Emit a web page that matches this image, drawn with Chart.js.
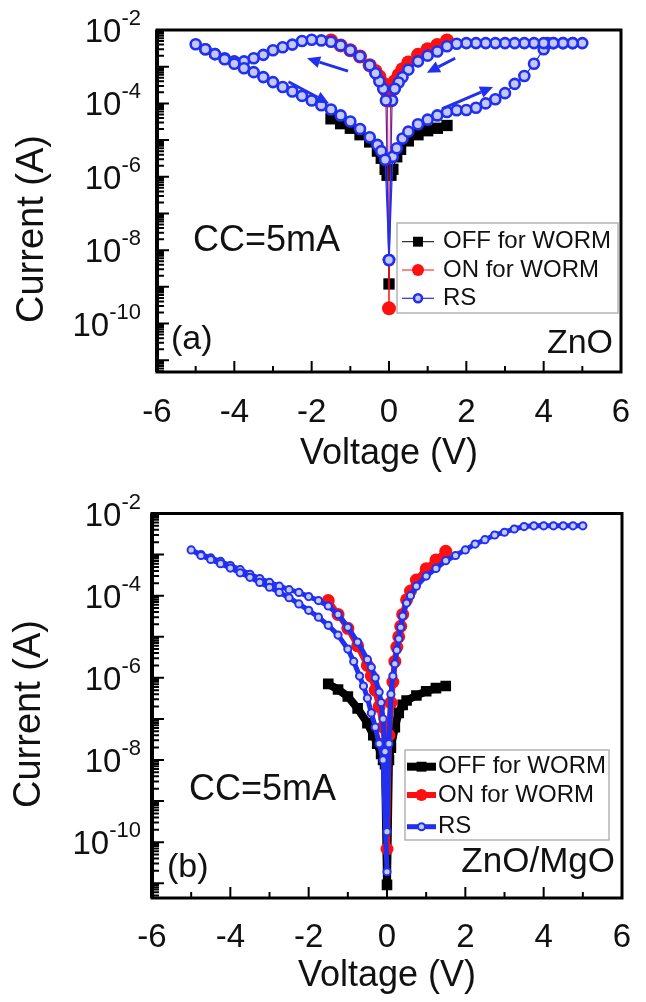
<!DOCTYPE html>
<html>
<head>
<meta charset="utf-8">
<script src="https://cdn.jsdelivr.net/npm/chart.js@4.4.1/dist/chart.umd.min.js"></script>
<style>
  html, body { margin: 0; padding: 0; background: #fff; }
  #wrap { position: relative; width: 646px; height: 1002px; }
  .panel { position: absolute; left: 0; width: 646px; }
  #pa { top: 0; height: 490px; }
  #pb { top: 490px; height: 512px; }
</style>
</head>
<body>
<div id="wrap">
  <div class="panel" id="pa"><canvas id="chartA"></canvas></div>
  <div class="panel" id="pb"><canvas id="chartB"></canvas></div>
</div>
<script>
// series names and labelled decades
const names = ['OFF for WORM', 'ON for WORM', 'RS'];
const yLabelExps = [-2, -4, -6, -8, -10];

// (a) ZnO : voltage (V) / current (A)
const aOffV = [-1.5, -1.25, -1.0, -0.75, -0.5, -0.3, -0.2, -0.1, -0.05, 0, 0.05, 0.1, 0.2, 0.3, 0.5, 0.75, 1.0, 1.25, 1.5];
const aOffI = [3.8e-5, 2.8e-5, 2.1e-5, 1.4e-5, 8.9e-6, 5.0e-6, 3.2e-6, 1.6e-6, 1.1e-6, 1.2e-9, 1.1e-6, 1.6e-6, 3.5e-6, 5.6e-6, 9.5e-6, 1.4e-5, 1.8e-5, 2.1e-5, 2.5e-5];

const aOnV = [-1.5, -1.25, -1.0, -0.75, -0.5, -0.35, -0.25, -0.15, -0.08, -0.04, 0, 0.04, 0.08, 0.15, 0.25, 0.35, 0.5, 0.75, 1.0, 1.25, 1.5];
const aOnI = [5.2e-3, 3.8e-3, 2.8e-3, 1.9e-3, 1.1e-3, 7.6e-4, 5.4e-4, 3.5e-4, 2.2e-4, 1.2e-4, 2.6e-10, 1.2e-4, 2.3e-4, 4.0e-4, 6.0e-4, 8.5e-4, 1.3e-3, 2.1e-3, 3.0e-3, 3.9e-3, 5.2e-3];

// sweep 0 -> 5 -> 0 -> -5 -> 0
const aRsV = [0, 0.1, 0.2, 0.35, 0.5, 0.75, 1.0, 1.25, 1.5, 1.75, 2.0, 2.25, 2.5, 2.75, 3.0, 3.25, 3.5, 3.75, 4.0, 4.1, 4.25, 4.5, 4.75, 5.0,
  4.75, 4.5, 4.25, 4.0, 3.75, 3.5, 3.25, 3.0, 2.75, 2.5, 2.25, 2.0, 1.75, 1.5, 1.25, 1.0, 0.75, 0.5, 0.35, 0.25, 0.15, 0.08, 0,
  -0.08, -0.15, -0.25, -0.35, -0.5, -0.75, -1.0, -1.25, -1.5, -1.75, -2.0, -2.25, -2.5, -2.75, -3.0, -3.25, -3.5, -3.75, -4.0, -4.25, -4.5, -4.75, -5.0,
  -4.75, -4.5, -4.25, -4.0, -3.75, -3.5, -3.25, -3.0, -2.75, -2.5, -2.25, -2.0, -1.75, -1.5, -1.25, -1.0, -0.75, -0.5, -0.3, -0.2, -0.1, 0];
const aRsI = [5.4e-9, 3.5e-6, 6.0e-6, 1.1e-5, 1.7e-5, 2.7e-5, 3.6e-5, 4.7e-5, 5.8e-5, 6.5e-5, 6.6e-5, 7.6e-5, 1.0e-4, 1.3e-4, 1.9e-4, 3.4e-4, 5.6e-4, 1.2e-3, 3.0e-3, 4.4e-3, 4.4e-3, 4.4e-3, 4.4e-3, 4.4e-3,
  4.4e-3, 4.4e-3, 4.4e-3, 4.4e-3, 4.4e-3, 4.4e-3, 4.4e-3, 4.4e-3, 4.4e-3, 4.4e-3, 4.4e-3, 4.4e-3, 4.2e-3, 3.6e-3, 2.6e-3, 2.0e-3, 1.4e-3, 8.3e-4, 5.2e-4, 3.7e-4, 2.5e-4, 1.2e-4, 5.4e-9,
  1.2e-4, 2.5e-4, 4.0e-4, 6.6e-4, 1.1e-3, 1.9e-3, 2.8e-3, 3.8e-3, 4.8e-3, 5.2e-3, 5.4e-3, 5.0e-3, 4.0e-3, 3.4e-3, 2.8e-3, 2.1e-3, 1.7e-3, 1.4e-3, 1.4e-3, 1.7e-3, 2.2e-3, 3.0e-3, 4.1e-3,
  3.0e-3, 2.2e-3, 1.6e-3, 1.2e-3, 9.1e-4, 7.1e-4, 5.2e-4, 3.8e-4, 2.8e-4, 2.1e-4, 1.6e-4, 1.2e-4, 8.9e-5, 6.8e-5, 4.7e-5, 3.2e-5, 2.0e-5, 1.2e-5, 7.4e-6, 5.0e-6, 2.9e-6, 5.4e-9];

// (b) ZnO/MgO
const bOffV = [-1.5, -1.25, -1.0, -0.75, -0.5, -0.35, -0.25, -0.15, -0.1, -0.05, 0, 0.05, 0.1, 0.2, 0.3, 0.4, 0.5, 0.75, 1.0, 1.25, 1.5];
const bOffI = [7.1e-7, 5.2e-7, 3.5e-7, 1.8e-7, 7.9e-8, 4.0e-8, 2.5e-8, 1.4e-8, 1.0e-8, 7.9e-9, 9.1e-12, 1.0e-8, 2.0e-8, 6.3e-8, 1.4e-7, 2.2e-7, 2.8e-7, 3.7e-7, 4.7e-7, 5.6e-7, 6.3e-7];

const bOnV = [-1.5, -1.25, -1.0, -0.75, -0.5, -0.4, -0.3, -0.2, -0.1, -0.05, 0, 0.05, 0.1, 0.15, 0.2, 0.25, 0.3, 0.35, 0.4, 0.5, 0.6, 0.75, 1.0, 1.25, 1.5];
const bOnI = [7.6e-5, 3.5e-5, 1.6e-5, 6.0e-6, 2.0e-6, 1.1e-6, 5.0e-7, 2.0e-7, 6.3e-8, 2.5e-8, 6.8e-11, 4.0e-8, 2.5e-7, 7.9e-7, 2.5e-6, 5.6e-6, 1.0e-5, 1.8e-5, 3.5e-5, 7.9e-5, 1.3e-4, 2.4e-4, 4.5e-4, 7.4e-4, 1.2e-3];

// path 5 -> 0 -> -5 -> 0
const bRsV = [5.0, 4.75, 4.5, 4.25, 4.0, 3.75, 3.5, 3.25, 3.0, 2.75, 2.5, 2.25, 2.0, 1.75, 1.5, 1.25, 1.0, 0.75, 0.6, 0.5, 0.4, 0.35, 0.3, 0.25, 0.2, 0.15, 0.1, 0.05, 0,
  -0.05, -0.1, -0.15, -0.2, -0.3, -0.4, -0.5, -0.75, -1.0, -1.25, -1.5, -1.75, -2.0, -2.25, -2.5, -2.75, -3.0, -3.25, -3.5, -3.75, -4.0, -4.25, -4.5, -4.75, -5.0,
  -4.75, -4.5, -4.25, -4.0, -3.75, -3.5, -3.25, -3.0, -2.75, -2.5, -2.25, -2.0, -1.75, -1.5, -1.25, -1.0, -0.85, -0.7, -0.6, -0.5, -0.4, -0.3, -0.2, -0.1, 0];
const bRsI = [5.0e-3, 5.0e-3, 5.0e-3, 5.0e-3, 5.0e-3, 5.0e-3, 4.8e-3, 4.2e-3, 3.5e-3, 3.0e-3, 2.3e-3, 1.8e-3, 1.3e-3, 9.5e-4, 7.1e-4, 4.6e-4, 3.0e-4, 1.7e-4, 1.0e-4, 6.6e-5, 3.2e-5, 1.7e-5, 8.9e-6, 4.7e-6, 2.2e-6, 1.1e-6, 4.0e-7, 2.5e-8, 1.8e-10,
  1.6e-8, 1.0e-7, 2.5e-7, 4.5e-7, 1.0e-6, 1.8e-6, 2.8e-6, 7.4e-6, 1.7e-5, 3.5e-5, 5.6e-5, 7.6e-5, 9.5e-5, 1.2e-4, 1.4e-4, 1.7e-4, 2.1e-4, 2.6e-4, 3.3e-4, 4.3e-4, 5.4e-4, 6.8e-4, 8.3e-4, 1.0e-3, 1.3e-3,
  9.5e-4, 7.6e-4, 6.0e-4, 4.7e-4, 3.6e-4, 2.8e-4, 2.1e-4, 1.6e-4, 1.2e-4, 8.9e-5, 6.3e-5, 4.4e-5, 3.0e-5, 1.9e-5, 1.1e-5, 5.0e-6, 2.5e-6, 1.1e-6, 6.3e-7, 3.2e-7, 1.4e-7, 6.3e-8, 2.5e-8, 1.0e-8, 1.9e-11];

// sweep-direction arrows in panel (a): [V1, I1, V2, I2]
const aArrows = [[-1.06, 7.6e-4, -2.12, 1.7e-3], [1.71, 1.7e-3, 0.98, 6.8e-4], [1.37, 7.1e-5, 2.69, 2.8e-4], [-2.6, 3.9e-4, -1.55, 1.0e-4]];

const F = '"Liberation Sans", Arial, Helvetica, sans-serif';
const BLUE = '#2130ee', RED = '#ff1010';
Chart.defaults.font.family = F;
Chart.defaults.color = '#111';

function pts(vs, is) { return vs.map((v, k) => ({ x: v, y: is[k] })); }

function arrow(ctx, x1, y1, x2, y2) {
  const ang = Math.atan2(y2 - y1, x2 - x1), hl = 13, hw = 6;
  const bx = x2 - hl * Math.cos(ang), by = y2 - hl * Math.sin(ang);
  ctx.strokeStyle = BLUE; ctx.fillStyle = BLUE; ctx.lineWidth = 3;
  ctx.beginPath(); ctx.moveTo(x1, y1); ctx.lineTo(bx, by); ctx.stroke();
  ctx.beginPath(); ctx.moveTo(x2, y2);
  ctx.lineTo(bx + hw * Math.sin(ang), by - hw * Math.cos(ang));
  ctx.lineTo(bx - hw * Math.sin(ang), by + hw * Math.cos(ang));
  ctx.closePath(); ctx.fill();
}

function marker(ctx, d, x, y, r) {
  if (d.pointStyle === 'rect') {
    const s = r * Math.SQRT1_2;
    ctx.fillStyle = d.pointBackgroundColor;
    ctx.fillRect(x - s, y - s, 2 * s, 2 * s);
  } else {
    ctx.beginPath(); ctx.arc(x, y, r, 0, Math.PI * 2);
    ctx.fillStyle = d.pointBackgroundColor; ctx.fill();
    if (d.pointBorderWidth) { ctx.lineWidth = d.pointBorderWidth; ctx.strokeStyle = d.pointBorderColor; ctx.stroke(); }
  }
}

const deco = {
  id: 'deco',
  afterDatasetsDraw(chart, args, o) {
    const ctx = chart.ctx, xs = chart.scales.x, ys = chart.scales.y, a = chart.chartArea;
    ctx.save();
    (o.arrows || []).forEach(r => arrow(ctx, xs.getPixelForValue(r[0]), ys.getPixelForValue(r[1]),
      xs.getPixelForValue(r[2]), ys.getPixelForValue(r[3])));

    // frame and inward ticks
    ctx.strokeStyle = '#000';
    ctx.lineWidth = 3;
    ctx.strokeRect(a.left, a.top, a.right - a.left, a.bottom - a.top);
    ctx.lineWidth = 4;
    ctx.beginPath(); ctx.moveTo(a.left, a.top); ctx.lineTo(a.left, a.bottom); ctx.stroke();
    ctx.lineWidth = 2;
    ctx.beginPath();
    for (let e = -12; e < -2; e++) {
      for (let k = 1; k < 10; k++) {
        const v = k * Math.pow(10, e);
        if (v < ys.min || v > ys.max) continue;
        const py = ys.getPixelForValue(v);
        ctx.moveTo(a.left, py); ctx.lineTo(a.left + (k === 1 ? 12 : 7), py);
      }
    }
    for (let v = -5; v <= 5; v++) {
      const px = xs.getPixelForValue(v);
      ctx.moveTo(px, a.bottom); ctx.lineTo(px, a.bottom - (v % 2 === 0 ? 11 : 6));
    }
    ctx.stroke();

    // y tick labels 10^n
    ctx.fillStyle = '#111';
    ctx.textBaseline = 'middle';
    yLabelExps.forEach(e => {
      const py = ys.getPixelForValue(Math.pow(10, e));
      const s = String(e);
      ctx.font = '22px ' + F;
      const w = ctx.measureText(s).width;
      ctx.textAlign = 'left';
      ctx.fillText(s, o.labelRight - w, py - 11);
      ctx.font = '33px ' + F;
      ctx.textAlign = 'right';
      ctx.fillText('10', o.labelRight - w, py + 3);
    });

    // y title
    ctx.save();
    ctx.translate(o.ytitle.x, o.ytitle.y);
    ctx.rotate(-Math.PI / 2);
    ctx.font = o.ytitle.size + 'px ' + F;
    ctx.textAlign = 'center';
    ctx.fillText('Current (A)', 0, 0);
    ctx.restore();

    o.notes.forEach(n => {
      ctx.font = n.size + 'px ' + F;
      ctx.textAlign = n.align || 'left';
      ctx.textBaseline = n.base || 'middle';
      ctx.fillStyle = '#111';
      ctx.fillText(n.text, n.x, n.y);
    });

    // legend
    const L = o.legend;
    ctx.fillStyle = '#fff';
    ctx.fillRect(L.x, L.y, L.w, L.h);
    ctx.strokeStyle = '#b4b4b4'; ctx.lineWidth = 1.5;
    ctx.strokeRect(L.x, L.y, L.w, L.h);
    chart.data.datasets.forEach((d, k) => {
      const ry = L.rows[k];
      ctx.strokeStyle = d.borderColor; ctx.lineWidth = d.borderWidth;
      ctx.beginPath(); ctx.moveTo(L.x1, ry); ctx.lineTo(L.x2, ry); ctx.stroke();
      marker(ctx, d, (L.x1 + L.x2) / 2, ry, L.r[k]);
      ctx.fillStyle = '#111';
      ctx.font = L.size + 'px ' + F;
      ctx.textAlign = 'left'; ctx.textBaseline = 'middle';
      ctx.fillText(d.label, L.tx, ry);
    });
    ctx.restore();
  }
};

function sets(offV, offI, onV, onI, rsV, rsI, st) {
  return [
    { label: names[0], data: pts(offV, offI), showLine: true, borderColor: '#000', borderWidth: st.lw[0],
      pointStyle: 'rect', pointRadius: st.r[0], pointHoverRadius: st.r[0], pointBackgroundColor: '#000', pointBorderWidth: 0, order: 3 },
    { label: names[1], data: pts(onV, onI), showLine: true, borderColor: RED, borderWidth: st.lw[1],
      pointStyle: 'circle', pointRadius: st.r[1], pointHoverRadius: st.r[1], pointBackgroundColor: RED, pointBorderWidth: 0, order: 2 },
    { label: names[2], data: pts(rsV, rsI), showLine: true, borderColor: BLUE, borderWidth: st.lw[2],
      pointStyle: 'circle', pointRadius: st.r[2], pointHoverRadius: st.r[2], pointBackgroundColor: '#c3c9ff',
      pointBorderColor: BLUE, pointBorderWidth: st.rb, order: 1 }
  ];
}

function opts(c) {
  return {
    responsive: true, maintainAspectRatio: false, animation: false,
    layout: { padding: { top: c.top, right: c.right, left: 0, bottom: 0 } },
    plugins: { legend: { display: false }, tooltip: { enabled: false }, deco: c.deco },
    scales: {
      x: {
        type: 'linear', min: -6, max: 6,
        ticks: { stepSize: 2, padding: c.tickPad, font: { size: 33 }, color: '#111', maxRotation: 0, autoSkip: false },
        grid: { display: false }, border: { display: false },
        title: { display: true, text: 'Voltage (V)', font: { size: 36 }, color: '#111', padding: { top: 0, bottom: c.titlePad } },
        afterFit: s => { s.height = c.xh; }
      },
      y: {
        type: 'logarithmic', min: c.ymin, max: 1e-2,
        ticks: { display: false }, grid: { display: false }, border: { display: false },
        afterFit: s => { s.width = c.yw; }
      }
    }
  };
}

new Chart('chartA', {
  type: 'scatter',
  data: { datasets: sets(aOffV, aOffI, aOnV, aOnI, aRsV, aRsI, { lw: [1, 1, 1.2], r: [8, 7, 5], rb: 2.6 }) },
  options: opts({
    top: 30, right: 25, yw: 157, xh: 118, tickPad: 13, titlePad: 14, ymin: Math.pow(10, -11.32),
    deco: {
      labelRight: 141, arrows: aArrows,
      ytitle: { x: 33, y: 229, size: 38 },
      notes: [
        { text: 'CC=5mA', x: 193, y: 241, size: 36 },
        { text: '(a)', x: 171, y: 340, size: 34 },
        { text: 'ZnO', x: 613, y: 353, size: 34, align: 'right', base: 'alphabetic' }
      ],
      legend: { x: 397, y: 223, w: 221, h: 90, x1: 402, x2: 434, tx: 443, size: 24, rows: [241.7, 270, 298.3], r: [7, 6, 4] }
    }
  }),
  plugins: [deco]
});

new Chart('chartB', {
  type: 'scatter',
  data: { datasets: sets(bOffV, bOffI, bOnV, bOnI, bRsV, bRsI, { lw: [8, 6, 5], r: [7.5, 6.5, 3.6], rb: 2 }) },
  options: opts({
    top: 23.5, right: 24, yw: 152, xh: 104, tickPad: 12, titlePad: 4, ymin: Math.pow(10, -11.36),
    deco: {
      labelRight: 141,
      ytitle: { x: 30, y: 224, size: 38 },
      notes: [
        { text: 'CC=5mA', x: 189, y: 300, size: 36 },
        { text: '(b)', x: 167, y: 378, size: 34 },
        { text: 'ZnO/MgO', x: 615, y: 382, size: 35, align: 'right', base: 'alphabetic' }
      ],
      legend: { x: 405, y: 260, w: 204, h: 90, x1: 407, x2: 436, tx: 438, size: 24, rows: [276.7, 305, 336.7], r: [7, 6, 3.5] }
    }
  }),
  plugins: [deco]
});
</script>
</body>
</html>
